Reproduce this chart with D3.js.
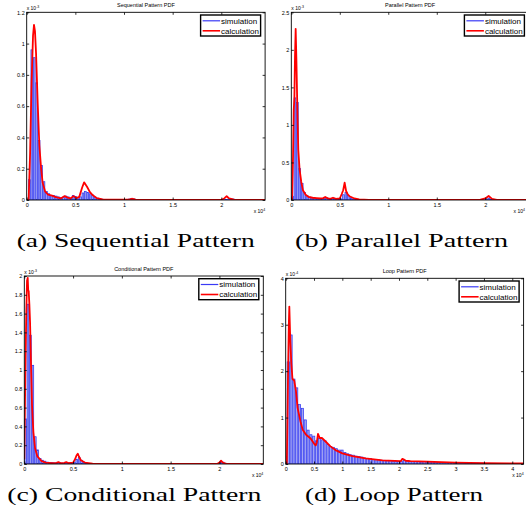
<!DOCTYPE html>
<html><head><meta charset="utf-8">
<script src="https://cdn.jsdelivr.net/npm/d3@7"></script>
<style>body{margin:0;background:#fff} svg{display:block}</style>
</head><body><svg id="c" width="526" height="516"></svg>
<script>
// ---------------- DATA (x in units of 10^4, y in units of the panel's exponent) ----------------
// (a) Sequential pattern
const seqBinStart = 0.015, seqBinWidth = 0.025;
const seqSim = [
  0.13,0.96,0.91,0.75,0.38,0.22,0.117,0.055,0.04,0.03,
  0.028,0.025,0.02,0.015,0.018,0.025,0.02,0.012,0.028,0.022,
  0.015,0.02,0.045,0.055,0.048,0.04,0.032,0.02,0.012,0.008,
  0.005,0.004,0.003,0.002,0.002,0.002,0.002,0.002,0.002,0.002,
  0.003,0.006,0.01,0.007,0.003,0.002,0.001,0.001,0.001,0.001,
  0.001,0.001,0.001,0.001,0.001,0.001,0.001,0.001,0.001,0.001,
  0.001,0.001,0.001,0.001,0.001,0.001,0.001,0.001,0.001,0.001,
  0.001,0.001,0.001,0.001,0.001,0.001,0.001,0.001,0.001,0.001,
  0.002,0.004,0.008,0.008,0.006,0.003,0.002,0.001,0.001,0.001,
  0.001,0.001,0.001,0.001,0.001,0.001,0.001];
const seqCalcX = [0,0.02,0.035,0.05,0.065,0.075,0.085,0.096,0.113,0.13,0.147,0.164,0.19,0.22,0.26,0.3,0.35,0.39,0.42,0.45,0.48,0.51,0.54,0.57,0.59,0.62,0.65,0.68,0.72,0.78,0.9,1.05,1.08,1.12,1.5,2.0,2.03,2.055,2.08,2.13,2.45];
const seqCalcY = [0,0,0.3,0.75,1.05,1.12,1.08,0.94,0.62,0.35,0.21,0.11,0.053,0.035,0.028,0.018,0.01,0.025,0.015,0.01,0.025,0.012,0.02,0.08,0.113,0.085,0.05,0.03,0.012,0.004,0.002,0.003,0.008,0.003,0.001,0.001,0.01,0.024,0.01,0.002,0.001];

// (b) Parallel pattern
const parBinStart = 0, parBinWidth = 0.025;
const parSim = [
  0.05,1.36,1.30,0.42,0.22,0.10,0.06,0.04,0.03,0.025,
  0.02,0.02,0.015,0.03,0.035,0.015,0.01,0.025,0.02,0.01,
  0.015,0.07,0.10,0.06,0.03,0.015,0.008,0.005,0.003,0.002,
  0.002,0.002,0.002,0.002,0.002,0.002,0.002,0.002,0.002,0.002,
  0.002,0.001,0.001,0.001,0.001,0.001,0.001,0.001,0.001,0.001,
  0.001,0.001,0.001,0.001,0.001,0.001,0.001,0.001,0.001,0.001,
  0.001,0.001,0.001,0.001,0.001,0.001,0.001,0.001,0.001,0.001,
  0.001,0.001,0.001,0.001,0.001,0.001,0.001,0.001,0.001,0.001,
  0.015,0.025,0.01,0.004,0.001,0.001,0.001,0.001,0.001,0.001,
  0.001,0.001,0.001,0.001,0.001,0.001,0.001,0.001];
const parCalcX = [0,0.008,0.018,0.025,0.032,0.038,0.045,0.052,0.062,0.072,0.086,0.103,0.12,0.148,0.18,0.22,0.26,0.3,0.33,0.35,0.37,0.4,0.43,0.46,0.5,0.52,0.535,0.55,0.565,0.58,0.6,0.65,0.7,0.8,1.0,1.5,1.95,2.0,2.035,2.07,2.12,2.45];
const parCalcY = [0,0,0.6,1.2,1.36,1.9,2.28,1.9,1.24,0.67,0.4,0.24,0.13,0.07,0.04,0.03,0.025,0.02,0.025,0.04,0.025,0.015,0.03,0.015,0.02,0.08,0.13,0.23,0.12,0.08,0.05,0.02,0.008,0.003,0.002,0.002,0.004,0.02,0.053,0.015,0.003,0.002];

// (c) Conditional pattern
const conBinStart = 0, conBinWidth = 0.025;
const conSim = [
  0.48,1.70,1.37,1.05,0.29,0.15,0.06,0.04,0.03,0.02,
  0.015,0.015,0.012,0.01,0.015,0.01,0.008,0.015,0.012,0.008,
  0.015,0.05,0.07,0.04,0.02,0.01,0.005,0.003,0.002,0.002,
  0.001,0.001,0.001,0.001,0.001,0.001,0.001,0.001,0.001,0.001,
  0.001,0.001,0.001,0.001,0.001,0.001,0.001,0.001,0.001,0.001,
  0.001,0.001,0.001,0.001,0.001,0.001,0.001,0.001,0.001,0.001,
  0.001,0.001,0.001,0.001,0.001,0.001,0.001,0.001,0.001,0.001,
  0.001,0.001,0.001,0.001,0.001,0.001,0.001,0.001,0.001,0.001,
  0.015,0.02,0.008,0.002,0.001,0.001,0.001,0.001,0.001,0.001,
  0.001,0.001,0.001,0.001,0.001,0.001,0.001,0.001];
const conCalcX = [0,0.01,0.02,0.028,0.035,0.04,0.045,0.052,0.059,0.069,0.079,0.093,0.11,0.134,0.178,0.22,0.28,0.33,0.35,0.37,0.41,0.43,0.45,0.5,0.52,0.535,0.548,0.56,0.58,0.62,0.7,0.9,1.5,1.98,2.0,2.017,2.035,2.07,2.45];
const conCalcY = [0.05,0.9,1.6,1.95,1.98,1.85,1.84,1.7,1.51,1.05,0.63,0.34,0.17,0.08,0.03,0.015,0.01,0.012,0.02,0.01,0.012,0.02,0.01,0.015,0.05,0.09,0.11,0.08,0.04,0.015,0.004,0.002,0.001,0.003,0.015,0.035,0.015,0.002,0.001];

// (d) Loop pattern
const loopBinStart = 0.02, loopBinWidth = 0.05;
const loopSim = [
  2.2,2.78,1.83,1.64,1.28,1.2,0.95,0.73,0.63,0.6,
  0.5,0.55,0.52,0.5,0.42,0.38,0.36,0.33,0.3,0.3,
  0.25,0.22,0.2,0.19,0.17,0.16,0.15,0.13,0.12,0.12,
  0.1,0.1,0.09,0.08,0.08,0.07,0.07,0.06,0.06,0.05,
  0.06,0.08,0.07,0.06,0.05,0.05,0.05,0.04,0.05,0.04,
  0.04,0.04,0.035,0.035,0.035,0.03,0.03,0.03,0.03,0.025,
  0.025,0.025,0.025,0.02,0.02,0.02,0.02,0.02,0.018,0.018,
  0.016,0.016,0.015,0.015,0.014,0.013,0.012,0.012,0.011,0.01,
  0.01,0.01,0.009,0.009];
const loopCalcX = [0,0.02,0.04,0.055,0.064,0.08,0.1,0.12,0.15,0.18,0.21,0.26,0.3,0.36,0.44,0.5,0.53,0.55,0.57,0.6,0.64,0.7,0.79,0.88,1.0,1.18,1.41,1.71,2.03,2.06,2.08,2.12,2.2,2.5,3.0,3.5,4.2];
const loopCalcY = [0,0,1.8,3.0,3.39,2.7,2.16,1.83,1.8,1.58,1.21,0.92,0.74,0.63,0.55,0.44,0.4,0.47,0.65,0.56,0.56,0.49,0.38,0.3,0.23,0.17,0.12,0.08,0.06,0.11,0.1,0.07,0.06,0.05,0.03,0.02,0.012];

// tick values
const xTicksShort = [0,0.5,1,1.5,2];
const xTicksLoop = [0,0.5,1,1.5,2,2.5,3,3.5,4];
const yTicksSeq = [0,0.2,0.4,0.6,0.8,1,1.2];
const yTicksPar = [0,0.5,1,1.5,2,2.5];
const yTicksCon = [0,0.2,0.4,0.6,0.8,1,1.2,1.4,1.6,1.8,2];
const yTicksLoop = [0,1,2,3,4];

const titles = ["Sequential Pattern PDF","Parallel Pattern PDF","Conditional Pattern PDF","Loop Pattern PDF"];
const captions = ["(a) Sequential Pattern","(b) Parallel Pattern","(c) Conditional Pattern","(d) Loop Pattern"];
const yExponents = ["-3","-3","-3","-4"];
const legendLabels = ["simulation","calculation"];

// ---------------- LAYOUT ----------------
const panels = [
  {left:26.7, right:265.1, top:12.3, bottom:200, xMax:2.45, yMax:1.2, xTicks:xTicksShort, yTicks:yTicksSeq,
   sim:seqSim, binStart:seqBinStart, binWidth:seqBinWidth, cx:seqCalcX, cy:seqCalcY,
   cap:{x:16.7, y:246.7, len:238}},
  {left:291.3, right:528.9, top:12.3, bottom:200, xMax:2.45, yMax:2.5, xTicks:xTicksShort, yTicks:yTicksPar,
   sim:parSim, binStart:parBinStart, binWidth:parBinWidth, cx:parCalcX, cy:parCalcY,
   cap:{x:295, y:246.7, len:213}},
  {left:24.3, right:263.3, top:276, bottom:464, xMax:2.45, yMax:2, xTicks:xTicksShort, yTicks:yTicksCon,
   sim:conSim, binStart:conBinStart, binWidth:conBinWidth, cx:conCalcX, cy:conCalcY,
   cap:{x:7.3, y:500.7, len:254}},
  {left:285.7, right:523.6, top:278.3, bottom:464, xMax:4.2, yMax:4, xTicks:xTicksLoop, yTicks:yTicksLoop,
   sim:loopSim, binStart:loopBinStart, binWidth:loopBinWidth, cx:loopCalcX, cy:loopCalcY,
   cap:{x:305, y:500.7, len:178}}
];

const W = 526;
const svg = d3.select("#c");
const SANS = "'Liberation Sans', Arial, Helvetica, sans-serif";
const SERIF = "'Liberation Serif','Times New Roman',serif";
const fmt = d3.format("~g");

panels.forEach((p, idx) => {
  const g = svg.append("g");
  const xs = d3.scaleLinear().domain([0, p.xMax]).range([p.left, p.right]);
  const ys = d3.scaleLinear().domain([0, p.yMax]).range([p.bottom, p.top]);
  const clipId = "clip" + idx;
  svg.append("clipPath").attr("id", clipId).append("rect")
    .attr("x", p.left).attr("y", p.top).attr("width", p.right - p.left).attr("height", p.bottom - p.top);
  const plot = g.append("g").attr("clip-path", `url(#${clipId})`);

  // histogram bars
  plot.selectAll("rect.bar").data(p.sim).join("rect").attr("class","bar")
    .attr("x", (d,i) => xs(p.binStart + i*p.binWidth) + 0.35)
    .attr("width", (d,i) => Math.max(0.3, xs(p.binStart + (i+1)*p.binWidth) - xs(p.binStart + i*p.binWidth) - 0.7))
    .attr("y", d => ys(d))
    .attr("height", d => ys(0) - ys(d))
    .attr("fill", "#a3a5f3").attr("stroke", "#2b33f0").attr("stroke-width", 0.7);

  // calculation curve
  const line = d3.line().x((d,i) => xs(p.cx[i])).y(d => ys(d));
  plot.append("path").datum(p.cy).attr("d", line)
    .attr("fill","none").attr("stroke","#ff0000").attr("stroke-width",1.8).attr("stroke-linejoin","round");

  // axes
  const tk = 2.5;
  const styleAxis = sel => {
    sel.select(".domain").remove();
    sel.selectAll("line").attr("stroke","#000").attr("stroke-width",0.8);
    sel.selectAll("text").attr("font-family", SANS).attr("font-size", 5.5).attr("fill","#000");
  };
  g.append("g").attr("transform", `translate(0,${p.bottom})`)
    .call(d3.axisBottom(xs).tickValues(p.xTicks).tickSizeInner(-tk).tickSizeOuter(0).tickPadding(3.5).tickFormat(fmt))
    .call(styleAxis);
  g.append("g").attr("transform", `translate(0,${p.top})`)
    .call(d3.axisTop(xs).tickValues(p.xTicks).tickSizeInner(-tk).tickSizeOuter(0).tickFormat(""))
    .call(styleAxis);
  g.append("g").attr("transform", `translate(${p.left},0)`)
    .call(d3.axisLeft(ys).tickValues(p.yTicks).tickSizeInner(-tk).tickSizeOuter(0).tickPadding(2).tickFormat(fmt))
    .call(styleAxis);
  g.append("g").attr("transform", `translate(${p.right},0)`)
    .call(d3.axisRight(ys).tickValues(p.yTicks).tickSizeInner(-tk).tickSizeOuter(0).tickFormat(""))
    .call(styleAxis);
  g.append("rect").attr("x", p.left).attr("y", p.top)
    .attr("width", p.right - p.left).attr("height", p.bottom - p.top)
    .attr("fill","none").attr("stroke","#000").attr("stroke-width",0.9);

  // title
  g.append("text").attr("x", (p.left + p.right)/2).attr("y", p.top - 5)
    .attr("text-anchor","middle").attr("font-family", SANS).attr("font-size", 5.5).text(titles[idx]);

  // exponent labels
  const ey = g.append("text").attr("x", p.left).attr("y", p.top - 2.5)
    .attr("font-family", SANS).attr("font-size", 5);
  ey.append("tspan").text("x 10");
  ey.append("tspan").attr("dy", -2).attr("font-size", 3.5).text(yExponents[idx]);
  const ex = g.append("text").attr("x", Math.min(p.right, W - 1)).attr("y", p.bottom + 13)
    .attr("text-anchor","end").attr("font-family", SANS).attr("font-size", 5);
  ex.append("tspan").text("x 10");
  ex.append("tspan").attr("dy", -2).attr("font-size", 3.5).text("4");

  // legend
  const lw = 60, lh = 21;
  const lx = p.right - 64.5, ly = p.top + 2.7;
  const lg = g.append("g");
  lg.append("rect").attr("x", lx).attr("y", ly).attr("width", lw).attr("height", lh)
    .attr("fill","#fff").attr("stroke","#000").attr("stroke-width",1.4);
  const colors = ["#3a3af5","#ff0000"];
  legendLabels.forEach((lab, k) => {
    const yy = ly + 5.8 + k*10;
    lg.append("line").attr("x1", lx + 2).attr("x2", lx + 19.5).attr("y1", yy).attr("y2", yy)
      .attr("stroke", colors[k]).attr("stroke-width", k ? 1.6 : 1.2);
    lg.append("text").attr("x", lx + 20.5).attr("y", yy + 2.8)
      .attr("font-family", SANS).attr("font-size", 8).text(lab);
  });

  // caption
  svg.append("text").attr("x", p.cap.x).attr("y", p.cap.y)
    .attr("font-family", SERIF).attr("font-size", 18)
    .attr("textLength", p.cap.len).attr("lengthAdjust","spacingAndGlyphs")
    .text(captions[idx]);
});
</script>
</body></html>
